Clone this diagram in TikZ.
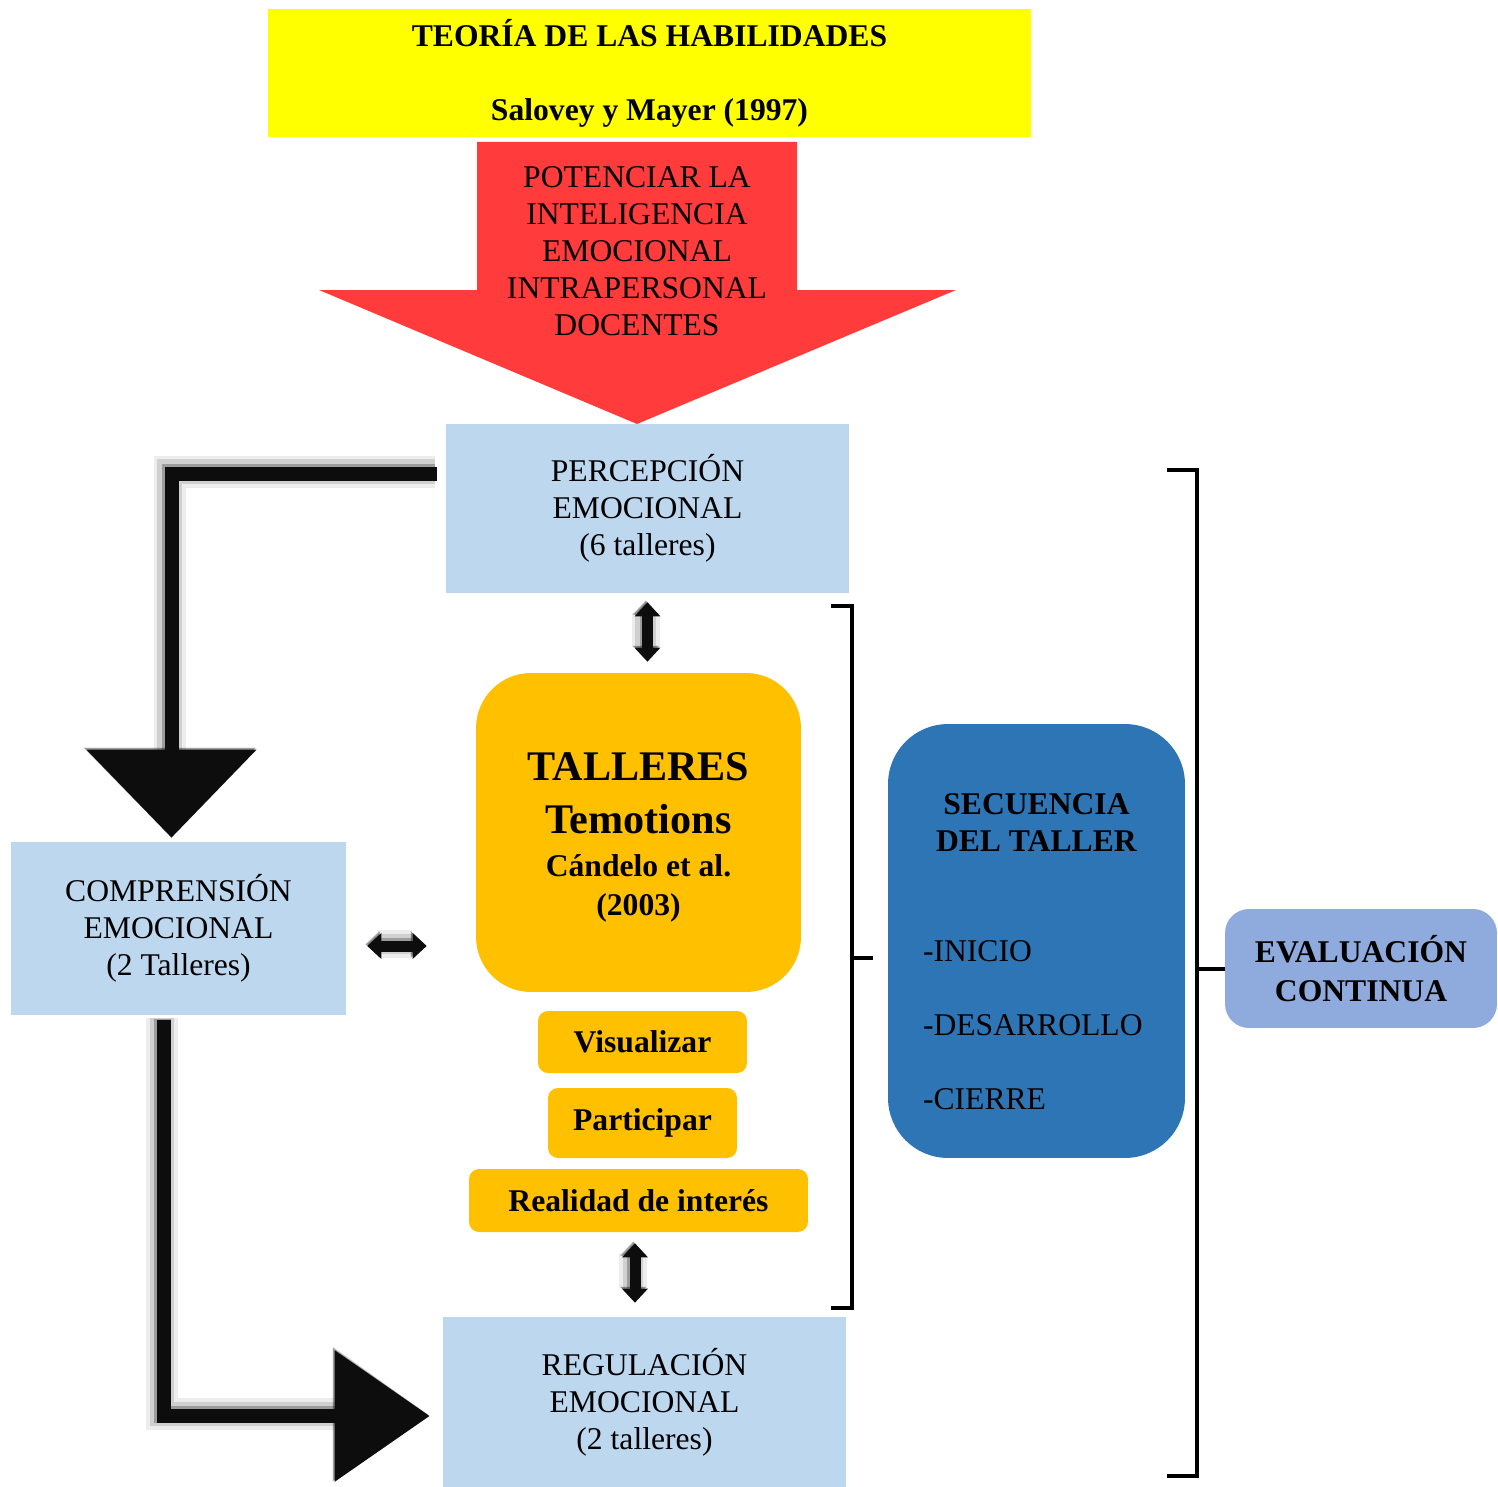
\documentclass[tikz,border=0pt]{standalone}
\usepackage{fontspec}
\setmainfont{Liberation Serif}
\usetikzlibrary{arrows.meta}

\definecolor{amarillo}{HTML}{FFFF00}
\definecolor{rojo}{HTML}{FF3B3B}
\definecolor{celeste}{HTML}{BDD7EE}
\definecolor{oro}{HTML}{FFC000}
\definecolor{azul}{HTML}{2E75B6}
\definecolor{lila}{HTML}{8FAADC}
\definecolor{negro}{HTML}{0D0D0D}

\begin{document}
\begin{tikzpicture}[x=0.02cm, y=-0.02cm,
    every node/.style={font=\fontsize{18}{21}\selectfont, align=center, inner sep=0pt},
    caja/.style={fill=celeste, minimum width=8.06cm, minimum height=3.38cm},
    naranja/.style={fill=oro, rounded corners=0.2cm, font=\fontsize{18}{21}\selectfont\bfseries},
    sombra/.style={
      preaction={draw=black, opacity=0.07, line width=#1+0.3cm, transform canvas={shift={(-0.04cm,0.04cm)}}},
      preaction={draw=black, opacity=0.12, line width=#1+0.15cm, transform canvas={shift={(-0.04cm,0.04cm)}}},
      preaction={draw=black, opacity=0.25, line width=#1, transform canvas={shift={(-0.03cm,0.03cm)}}}},
    grueso/.style={draw=negro, line width=0.28cm, sombra=0.34cm},
    doble/.style={draw=negro, line width=0.22cm, sombra=0.26cm,
      {Triangle[length=0.28cm, width=0.5cm]}-{Triangle[length=0.28cm, width=0.5cm]}},
    llave/.style={draw=black, line width=0.08cm}]
  \useasboundingbox (0,0) rectangle (1498,1487);

  % Cabecera
  \node[fill=amarillo, minimum width=15.26cm, minimum height=2.56cm,
    font=\fontsize{18}{21}\selectfont\bfseries] (teoria) at (649.5,73)
    {TEORÍA DE LAS HABILIDADES\\[21pt]Salovey y Mayer (1997)};
  \fill[rojo] (477,142) -- (797,142) -- (797,290) -- (956,290) -- (637,424)
    -- (319,290) -- (477,290) -- cycle;
  \node (potenciar) at (637,251)
    {POTENCIAR LA\\INTELIGENCIA\\EMOCIONAL\\INTRAPERSONAL\\DOCENTES};

  % Dimensiones
  \node[caja] (perc) at (647.5,508.5) {PERCEPCIÓN\\EMOCIONAL\\(6 talleres)};
  \node[caja, minimum width=6.7cm, minimum height=3.46cm] (comp) at (178.5,928.5)
    {COMPRENSIÓN\\EMOCIONAL\\(2 Talleres)};
  \node[caja, minimum height=3.4cm] (reg) at (644.5,1402)
    {REGULACIÓN\\EMOCIONAL\\(2 talleres)};

  % Talleres
  \node[naranja, rounded corners=1.1cm, minimum width=6.5cm, minimum height=6.38cm,
    font=\fontsize{24}{30}\selectfont\bfseries] (taller) at (638.5,832.5)
    {\rule{0pt}{21.5pt}TALLERES\\Temotions\\[-5.6pt]
     \fontsize{18}{21}\selectfont Cándelo et al.\\[-7.5pt]\fontsize{18}{21}\selectfont (2003)};
  \node[naranja, minimum width=4.18cm, minimum height=1.24cm] (vis) at (642.5,1042) {Visualizar};
  \node[naranja, minimum width=3.78cm, minimum height=1.4cm] (part) at (642.5,1123) {Participar};
  \node[naranja, minimum width=6.78cm, minimum height=1.26cm] (real) at (638.5,1200.5) {Realidad de interés};

  % Secuencia y evaluacion
  \node[fill=azul, rounded corners=1.2cm, minimum width=5.94cm, minimum height=8.68cm] (secu) at (1036.5,941)
    {\rule{0pt}{24pt}\textbf{SECUENCIA}\\\textbf{DEL TALLER}\\[42pt]
     \makebox[4.54cm][l]{-INICIO}\\[21pt]
     \makebox[4.54cm][l]{-DESARROLLO}\\[21pt]
     \makebox[4.54cm][l]{-CIERRE}};
  \node[fill=lila, rounded corners=0.48cm, minimum width=5.44cm, minimum height=2.38cm,
    font=\fontsize{18}{22}\selectfont\bfseries] (eval) at (1361,968.5)
    {EVALUACIÓN\\CONTINUA};

  % Flechas
  \draw[grueso, -{Triangle[length=1.76cm, width=3.34cm]}, shorten <=0.18cm, shorten >=0.08cm]
    ([yshift=-1cm]perc.north west) -| ([xshift=-0.14cm]comp.north);
  \draw[grueso, -{Triangle[length=1.9cm, width=2.56cm]}, shorten <=0.1cm, shorten >=0.26cm]
    ([xshift=-0.29cm]comp.south) |- ([yshift=-0.28cm]reg.west);
  \draw[doble, shorten <=0.18cm, shorten >=0.22cm] (perc.south) -- (perc.south |- taller.north);
  \coordinate (lr) at ([yshift=-0.35cm]comp.east);
  \draw[doble, shorten <=0.42cm, shorten >=0.98cm] (lr) -- (lr -| taller.west);
  \coordinate (rb) at ([xshift=-0.07cm]real.south);
  \draw[doble, shorten <=0.22cm, shorten >=0.28cm] (rb) -- (rb |- reg.north);

  % Llaves
  \draw[llave] (831,606) -- (852,606) -- (852,1308) -- (831,1308);
  \draw[llave] (852,958) -- (873,958);
  \draw[llave] (1167,470) -- (1197,470) -- (1197,1476) -- (1167,1476);
  \coordinate (ll) at (1197,0);
  \draw[llave] (ll |- eval.west) -- (eval.west);
\end{tikzpicture}
\end{document}
